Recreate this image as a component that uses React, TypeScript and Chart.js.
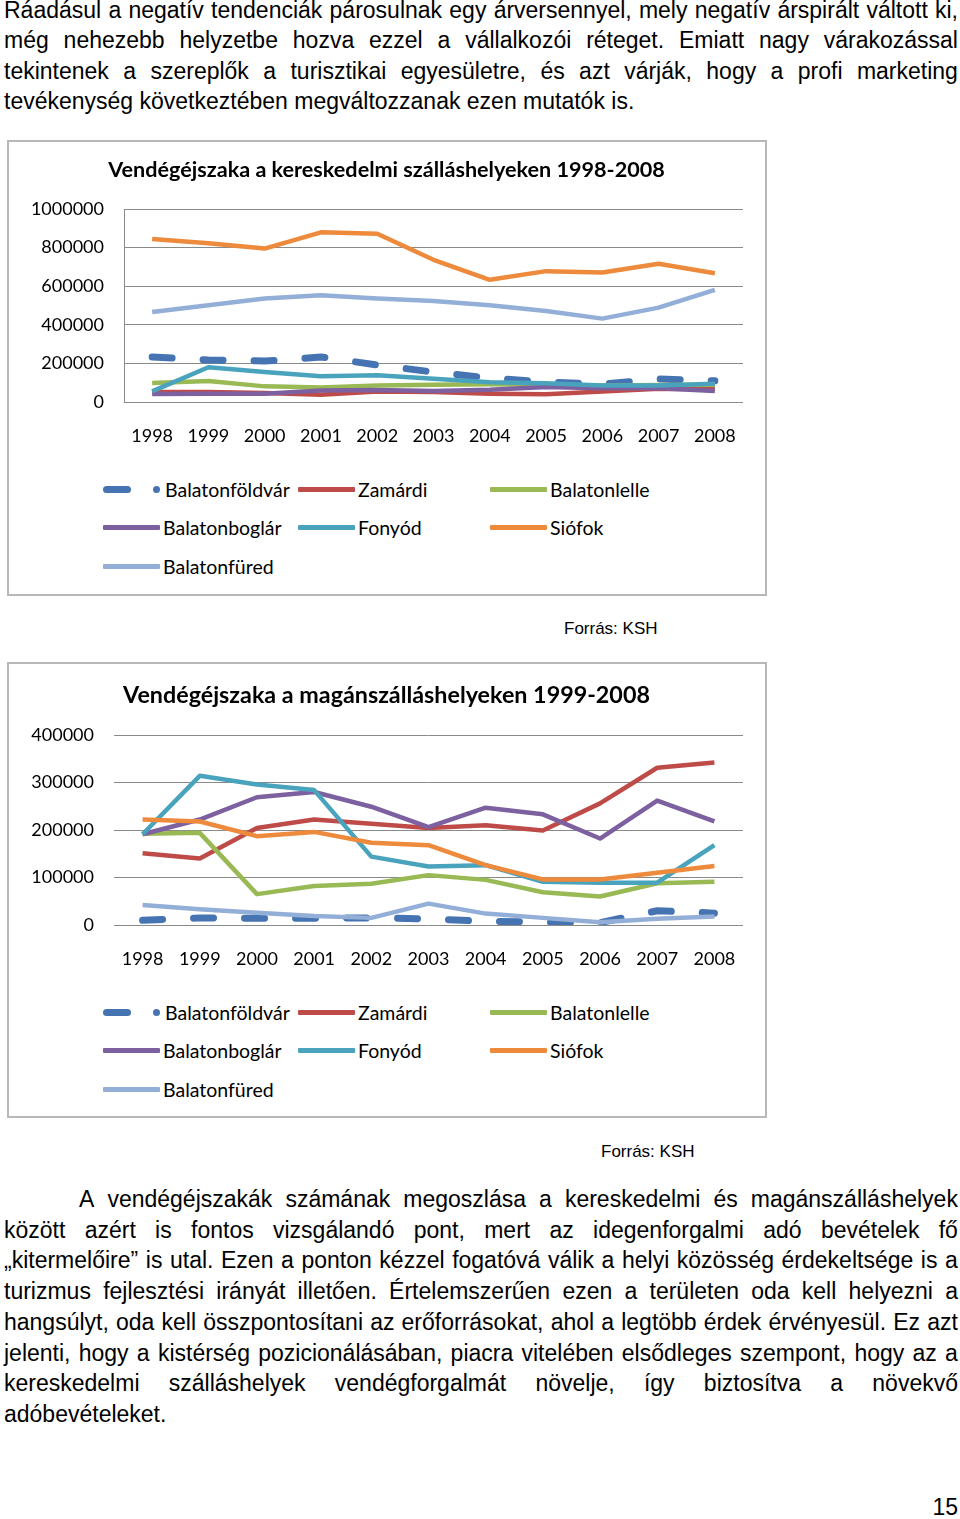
import React, { useEffect, useRef } from 'react';
import { Chart, registerables } from 'chart.js';

Chart.register(...registerables);

// ---------- data ----------
const years = ['1998', '1999', '2000', '2001', '2002', '2003', '2004', '2005', '2006', '2007', '2008'];
const seriesNames = ['Balatonföldvár', 'Zamárdi', 'Balatonlelle', 'Balatonboglár', 'Fonyód', 'Siófok', 'Balatonfüred'];
const seriesColors = ['#4674B2', '#BE4B48', '#98B954', '#7D60A0', '#4AA3BD', '#EE8A3C', '#93AFD8'];

// Kereskedelmi szálláshelyek 1998-2008
const tradeFoldvar = [233000, 218000, 212000, 233000, 192000, 155000, 124000, 104000, 93000, 119000, 110000];
const tradeZamardi = [52000, 52000, 47000, 38000, 54000, 52000, 43000, 40000, 55000, 68000, 69000];
const tradeLelle = [99000, 109000, 81000, 75000, 85000, 90000, 92000, 90000, 85000, 88000, 90000];
const tradeBoglar = [42000, 43000, 43000, 59000, 62000, 57000, 64000, 78000, 71000, 71000, 57000];
const tradeFonyod = [55000, 180000, 156000, 133000, 139000, 120000, 102000, 97000, 85000, 85000, 94000];
const tradeSiofok = [844000, 823000, 795000, 879000, 872000, 737000, 633000, 678000, 671000, 716000, 667000];
const tradeFured = [466000, 501000, 536000, 553000, 536000, 523000, 501000, 471000, 432000, 489000, 581000];

// Magánszálláshelyek
const privFoldvar = [10000, 15000, 14000, 14000, 15000, 13000, 8000, 6000, 5000, 30000, 25000];
const privZamardi = [151000, 140000, 204000, 222000, 213000, 204000, 210000, 199000, 256000, 331000, 342000];
const privLelle = [192000, 194000, 65000, 82000, 87000, 105000, 95000, 69000, 60000, 88000, 91000];
const privBoglar = [191000, 222000, 269000, 280000, 249000, 206000, 247000, 233000, 182000, 262000, 218000];
const privFonyod = [191000, 314000, 296000, 284000, 144000, 123000, 126000, 91000, 89000, 89000, 168000];
const privSiofok = [222000, 218000, 187000, 196000, 173000, 168000, 126000, 96000, 96000, 110000, 124000];
const privFured = [42000, 33000, 26000, 19000, 15000, 45000, 24000, 15000, 6000, 13000, 18000];

const tradeSeries = [tradeFoldvar, tradeZamardi, tradeLelle, tradeBoglar, tradeFonyod, tradeSiofok, tradeFured];
const privSeries = [privFoldvar, privZamardi, privLelle, privBoglar, privFonyod, privSiofok, privFured];

const tradeTitle = 'Vendégéjszaka a kereskedelmi szálláshelyeken 1998-2008';
const privTitle = 'Vendégéjszaka a magánszálláshelyeken 1999-2008';

const para1 = [
  'Ráadásul a negatív tendenciák párosulnak egy árversennyel, mely negatív árspirált váltott ki,',
  'még nehezebb helyzetbe hozva ezzel a vállalkozói réteget. Emiatt nagy várakozással',
  'tekintenek a szereplők a turisztikai egyesületre, és azt várják, hogy a profi marketing',
  'tevékenység következtében megváltozzanak ezen mutatók is.',
];
const para2 = [
  'A vendégéjszakák számának megoszlása a kereskedelmi és magánszálláshelyek',
  'között azért is fontos vizsgálandó pont, mert az idegenforgalmi adó bevételek fő',
  '„kitermelőire” is utal. Ezen a ponton kézzel fogatóvá válik a helyi közösség érdekeltsége is a',
  'turizmus fejlesztési irányát illetően. Értelemszerűen ezen a területen oda kell helyezni a',
  'hangsúlyt, oda kell összpontosítani az erőforrásokat, ahol a legtöbb érdek érvényesül. Ez azt',
  'jelenti, hogy a kistérség pozicionálásában, piacra vitelében elsődleges szempont, hogy az a',
  'kereskedelmi szálláshelyek vendégforgalmát növelje, így biztosítva a növekvő',
  'adóbevételeket.',
];

const CHART_FONT = 'Lato, "Open Sans", sans-serif';
const BODY_FONT = '"Liberation Sans", Arial, sans-serif';

type ChartProps = {
  top: number;
  title: string;
  titleSize: number;
  series: number[][];
  yMax: number;
  yStep: number;
  yAxisWidth: number;
  titleCenter: number;
  plotTop: number;
  xAxisHeight: number;
  axisLine: boolean;
};

const PAD_LEFT = 21;
const PAD_RIGHT = 22;

function LineChart(p: ChartProps) {
  const ref = useRef<HTMLCanvasElement | null>(null);
  useEffect(() => {
    if (!ref.current) return;
    const datasets = p.series.map((vals, i) => {
      const dashed = i === 0;
      return {
        label: seriesNames[i],
        data: vals,
        borderColor: seriesColors[i],
        backgroundColor: seriesColors[i],
        borderWidth: dashed ? 7 : 4.5,
        borderDash: dashed ? [20, 31] : [],
        borderCapStyle: dashed ? 'round' : 'butt',
        borderJoinStyle: 'round',
        pointRadius: 0,
        tension: 0,
        fill: false,
        order: seriesNames.length - i,
      };
    });
    const lh = p.titleSize * 1.2;
    const padTop = p.titleCenter - lh / 2;
    const padBottom = p.plotTop - padTop - lh;
    const chart = new Chart(ref.current, {
      type: 'line',
      data: { labels: years, datasets: datasets as any },
      options: {
        animation: false,
        responsive: false,
        maintainAspectRatio: false,
        layout: { padding: { left: PAD_LEFT, right: PAD_RIGHT, top: 0, bottom: 0 } },
        plugins: {
          legend: { display: false },
          tooltip: { enabled: false },
          title: {
            display: true,
            text: p.title,
            color: '#000',
            font: { family: CHART_FONT, size: p.titleSize, weight: 'bold', lineHeight: 1.2 },
            padding: { top: padTop, bottom: padBottom },
          },
        },
        scales: {
          x: {
            offset: true,
            grid: { display: false, drawTicks: false },
            border: { display: false },
            ticks: { color: '#000', font: { family: CHART_FONT, size: 18 }, padding: 23, maxRotation: 0, autoSkip: false },
            afterFit: (s: any) => { s.height = p.xAxisHeight; },
          },
          y: {
            min: 0,
            max: p.yMax,
            grid: { color: '#8a8a8a', lineWidth: 1, drawTicks: false },
            border: { display: p.axisLine, color: '#8a8a8a', width: 1 },
            ticks: {
              stepSize: p.yStep,
              color: '#000',
              font: { family: CHART_FONT, size: 18 },
              padding: 20,
              callback: (v: any) => String(v),
            },
            afterFit: (s: any) => { s.width = p.yAxisWidth - PAD_LEFT; },
          },
        },
      },
    });
    return () => chart.destroy();
  }, []);
  return (
    <canvas
      ref={ref}
      width={756}
      height={330}
      style={{ position: 'absolute', left: 9, top: p.top, width: 756, height: 330 }}
    />
  );
}

function LegendSample({ index }: { index: number }) {
  if (index === 0) {
    return (
      <div style={{ position: 'relative', width: 57, height: 8 }}>
        <div style={{ position: 'absolute', left: 0, top: 0.5, width: 28, height: 7, borderRadius: 3.5, background: seriesColors[0] }} />
        <div style={{ position: 'absolute', left: 50, top: 0.5, width: 7, height: 7, borderRadius: 3.5, background: seriesColors[0] }} />
      </div>
    );
  }
  return <div style={{ width: 57, height: 5, borderRadius: 1, background: seriesColors[index] }} />;
}

function Legend({ top }: { top: number }) {
  const colX = [103, 298, 490];
  return (
    <>
      {seriesNames.map((name, i) => {
        const row = Math.floor(i / 3);
        const col = i % 3;
        const cy = top + row * 38.5;
        return (
          <div
            key={name}
            style={{
              position: 'absolute',
              left: colX[col],
              top: cy - 14,
              height: 28,
              display: 'flex',
              alignItems: 'center',
              fontFamily: CHART_FONT,
              fontSize: 19.5,
              color: '#000',
              whiteSpace: 'nowrap',
            }}
          >
            <LegendSample index={i} />
            <span style={{ marginLeft: i === 0 ? 5 : 3 }}>{name}</span>
          </div>
        );
      })}
    </>
  );
}

function TextLine({ text, left, width, cy, justify }: { text: string; left: number; width: number; cy: number; justify: boolean }) {
  const words = text.split(' ');
  const common: React.CSSProperties = {
    position: 'absolute',
    left,
    top: cy - 15,
    height: 30,
    lineHeight: '30px',
    fontFamily: BODY_FONT,
    fontSize: 23,
    color: '#000',
    whiteSpace: 'nowrap',
  };
  if (!justify) {
    return <div style={common}>{text}</div>;
  }
  return (
    <div style={{ ...common, width, display: 'flex', justifyContent: 'space-between' }}>
      {words.map((w, i) => (
        <span key={i}>{w}</span>
      ))}
    </div>
  );
}

export default function App() {
  return (
    <div style={{ position: 'absolute', left: 0, top: 0, width: 960, height: 1519, background: '#fff', overflow: 'hidden' }}>
      {para1.map((t, i) => (
        <TextLine key={'a' + i} text={t} left={4} width={954} cy={10 + i * 30.4} justify={i < para1.length - 1} />
      ))}

      {/* chart 1 frame */}
      <div style={{ position: 'absolute', left: 7, top: 140, width: 756, height: 452, border: '2px solid #b8b8b8' }} />
      <LineChart
        top={142}
        title={tradeTitle}
        titleSize={21.6}
        series={tradeSeries}
        yMax={1000000}
        yStep={200000}
        yAxisWidth={115}
        titleCenter={28}
        plotTop={67}
        xAxisHeight={70}
        axisLine={true}
      />
      <Legend top={489} />
      <div style={{ position: 'absolute', left: 564, top: 619, fontFamily: BODY_FONT, fontSize: 17, lineHeight: '20px', color: '#000' }}>Forrás: KSH</div>

      {/* chart 2 frame */}
      <div style={{ position: 'absolute', left: 7, top: 662, width: 756, height: 452, border: '2px solid #b8b8b8' }} />
      <LineChart
        top={664}
        title={privTitle}
        titleSize={23.3}
        series={privSeries}
        yMax={400000}
        yStep={100000}
        yAxisWidth={105}
        titleCenter={31}
        plotTop={71}
        xAxisHeight={69}
        axisLine={false}
      />
      <Legend top={1012} />
      <div style={{ position: 'absolute', left: 601, top: 1142, fontFamily: BODY_FONT, fontSize: 17, lineHeight: '20px', color: '#000' }}>Forrás: KSH</div>

      {para2.map((t, i) => (
        <TextLine
          key={'b' + i}
          text={t}
          left={i === 0 ? 79 : 4}
          width={i === 0 ? 879 : 954}
          cy={1199 + i * 30.7}
          justify={i < para2.length - 1}
        />
      ))}

      <div style={{ position: 'absolute', right: 2, top: 1492, fontFamily: BODY_FONT, fontSize: 23, lineHeight: '30px', color: '#000' }}>15</div>
    </div>
  );
}
